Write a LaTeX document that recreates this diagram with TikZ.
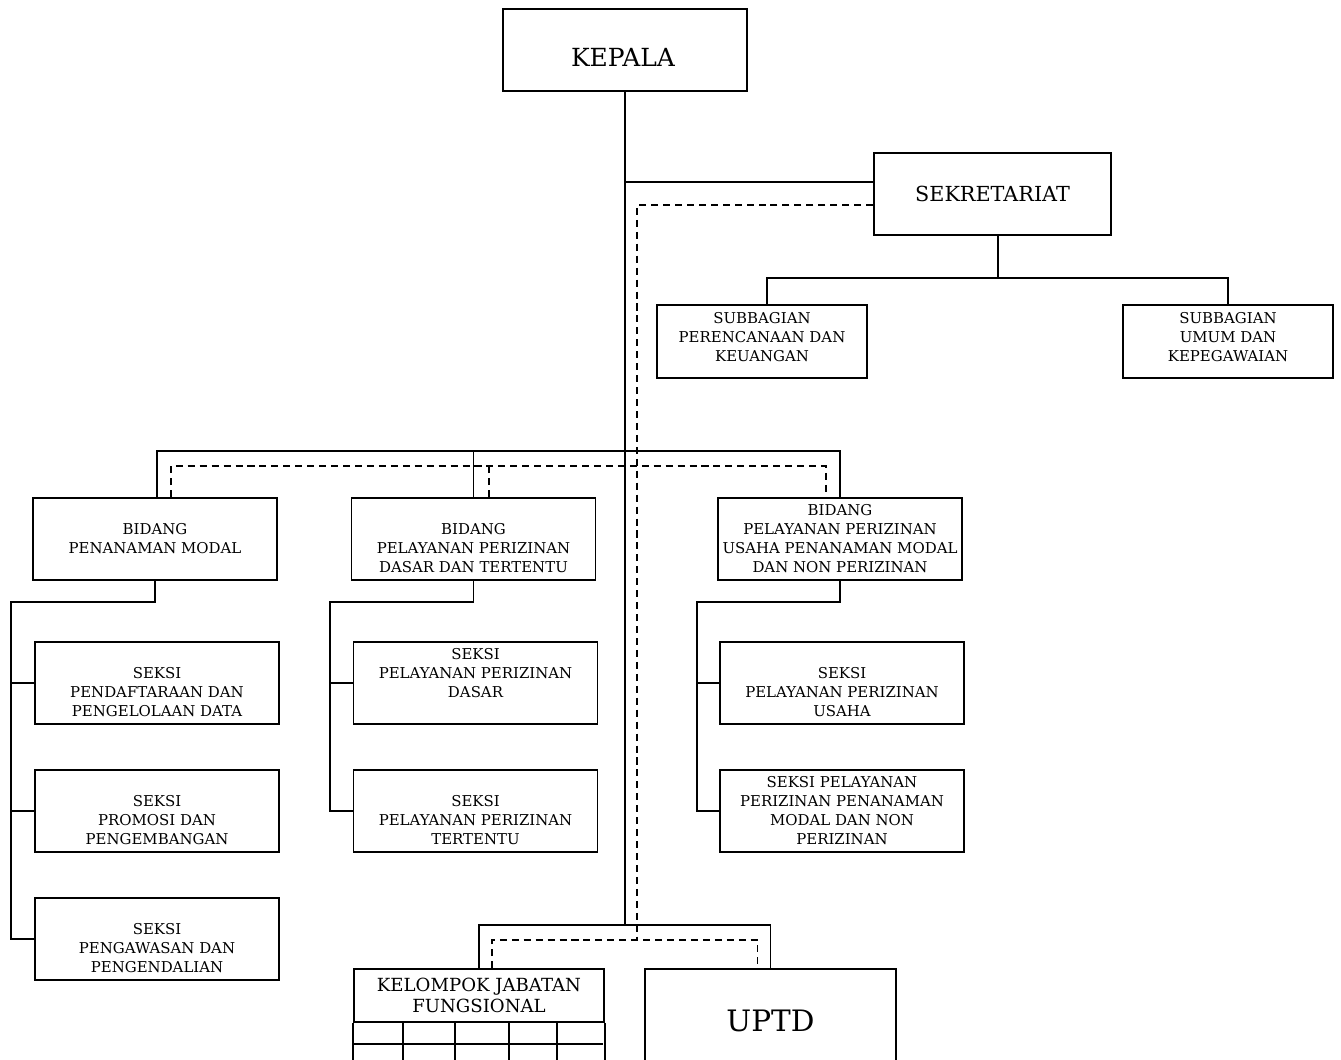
\documentclass[tikz,border=0pt]{standalone}
\usepackage{fontspec}
\setmainfont{DejaVu Serif}
\begin{document}
\begin{tikzpicture}[x=0.02cm,y=-0.02cm,line width=1.1pt,
  unit/.style={draw,inner sep=0pt,minimum width=4.88cm,minimum height=1.64cm},
  subunit/.style={unit,minimum width=4.2cm,minimum height=1.46cm},
  teks/.style={align=center,inner sep=0pt,font=\fontsize{8.5}{10.8}\selectfont},
  koord/.style={dash pattern=on 4pt off 2.8pt}]
\useasboundingbox (0,0) rectangle (1341,1059);
\clip (0,0) rectangle (1341,1059);
\node[unit] (kepala) at (625,50) {};
\node[font=\fontsize{14.2}{17}\selectfont] (kepala-t) at (623,57) {KEPALA};
\node[unit,minimum width=4.74cm,font=\fontsize{11.8}{14}\selectfont] (sek) at (992.5,194) {SEKRETARIAT};
\node[subunit] (sub1) at (762,341.5) {};
\node[teks] (sub1-t) at (762,337) {SUBBAGIAN\\PERENCANAAN DAN\\KEUANGAN};
\node[subunit] (sub2) at (1228,341.5) {};
\node[teks] (sub2-t) at (1228,337) {SUBBAGIAN\\UMUM DAN\\KEPEGAWAIAN};
\foreach \n/\x/\y/\dy/\t in {
  bpm/155/539/0/{BIDANG\\PENANAMAN MODAL},
  bdasar/473.5/539/9/{BIDANG\\PELAYANAN PERIZINAN\\DASAR DAN TERTENTU},
  busaha/840/539/0/{BIDANG\\PELAYANAN PERIZINAN\\USAHA PENANAMAN MODAL\\DAN NON PERIZINAN},
  s1/157/683/9/{SEKSI\\PENDAFTARAAN DAN\\PENGELOLAAN DATA},
  s2/157/811/9/{SEKSI\\PROMOSI DAN\\PENGEMBANGAN},
  s3/157/939/9/{SEKSI\\PENGAWASAN DAN\\PENGENDALIAN},
  s4/475.5/683/-10/{SEKSI\\PELAYANAN PERIZINAN\\DASAR},
  s5/475.5/811/9/{SEKSI\\PELAYANAN PERIZINAN\\TERTENTU},
  s6/842/683/9/{SEKSI\\PELAYANAN PERIZINAN\\USAHA},
  s7/842/811/0/{SEKSI PELAYANAN\\PERIZINAN PENANAMAN\\MODAL DAN NON\\PERIZINAN}}{
  \node[unit] (\n) at (\x,\y) {};
  \node[teks] (\n-t) at ({\x},{\y+(\dy)}) {\t};}
\node[draw,inner sep=0pt,minimum width=5cm,minimum height=1.06cm,align=center,font=\fontsize{10.3}{12}\selectfont] (jf) at (479,995.5) {KELOMPOK JABATAN\\FUNGSIONAL};
\draw (jf.south west) -- ++(0,60);
\draw (jf.south east) -- ++(0,60);
\draw (jf.south west) ++(0,21) -- ++(250,0);
\foreach \gx in {403,455,509,557}{\draw (\gx,1022) -- (\gx,1080);}
\node[draw,inner sep=0pt,minimum width=5.02cm,minimum height=2.08cm,font=\fontsize{16.8}{20}\selectfont] (uptd) at (770.5,1021) {UPTD};
\coordinate (ks) at (625,182);
\coordinate (ds) at (637,205);
\coordinate (sb) at (998,278);
\coordinate (bb) at (625,451);
\coordinate (db) at (637,466);
\coordinate (bawah) at (625,925);
\coordinate (dbawah) at (637,940);
\draw (kepala) -- (bawah);
\draw (ks) -- (ks -| sek.west);
\draw[koord] (sek.west |- ds) -- (ds) -- (dbawah);
\draw (sek.south -| sb) -- (sb);
\draw ([xshift=0.1cm]sub1.north) |- (sb) -| (sub2.north);
\draw ([xshift=0.04cm]bpm.north) |- (bb) -| (busaha.north);
\draw (bdasar.north) -- (bdasar.north |- bb);
\draw[koord] ([xshift=0.32cm]bpm.north) |- (db) -| ([xshift=-0.28cm]busaha.north);
\path ([xshift=0.31cm]bdasar.north) coordinate (dd);
\draw[koord] (dd) -- (dd |- db);
\draw (jf.north) |- (bawah) -| (uptd.north);
\draw[koord] ([xshift=0.26cm]jf.north) |- (dbawah) -| ([xshift=-0.26cm]uptd.north);
\foreach \b/\kx/\last/\sl in {bpm/11/s3/{s1,s2}, bdasar/330/s5/{s4}, busaha/697/s7/{s6}}{
  \coordinate (\b-k) at (\kx,602);
  \draw (\b.south) |- (\b-k) |- (\last.west);
  \foreach \s in \sl {\draw (\b-k |- \s.west) -- (\s.west);}}
\end{tikzpicture}
\end{document}
